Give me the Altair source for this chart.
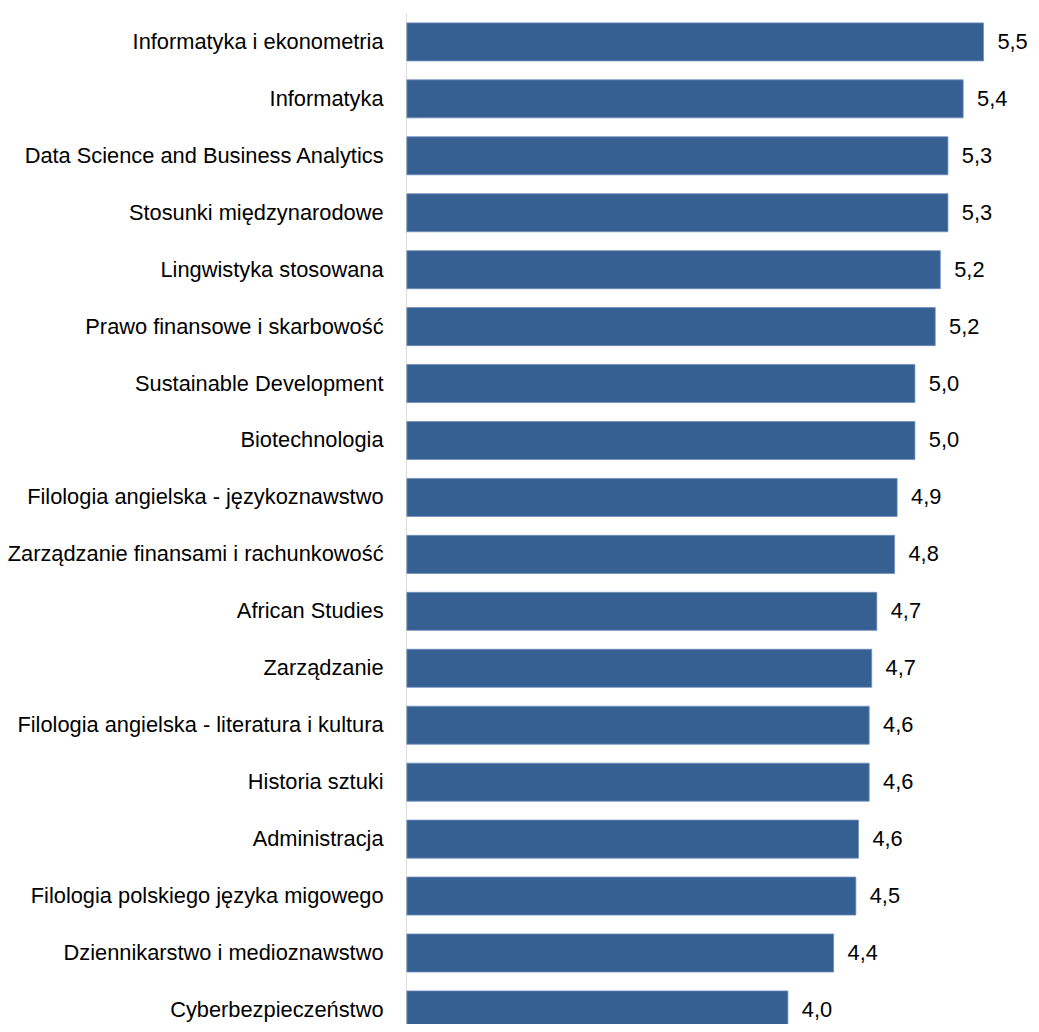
import altair as alt
import pandas as pd

categories = [
    "Informatyka i ekonometria",
    "Informatyka",
    "Data Science and Business Analytics",
    "Stosunki międzynarodowe",
    "Lingwistyka stosowana",
    "Prawo finansowe i skarbowość",
    "Sustainable Development",
    "Biotechnologia",
    "Filologia angielska - językoznawstwo",
    "Zarządzanie finansami i rachunkowość",
    "African Studies",
    "Zarządzanie",
    "Filologia angielska - literatura i kultura",
    "Historia sztuki",
    "Administracja",
    "Filologia polskiego języka migowego",
    "Dziennikarstwo i medioznawstwo",
    "Cyberbezpieczeństwo",
]
values = [5.54, 5.38, 5.26, 5.26, 5.20, 5.16, 5.00, 5.00, 4.86, 4.84,
          4.70, 4.66, 4.64, 4.64, 4.556, 4.535, 4.36, 4.00]
axis_min = 1

df = pd.DataFrame({"kierunek": categories, "wartosc": values})

FONT = "Liberation Sans"

y_enc = alt.Y(
    "kierunek:N",
    sort=categories,
    title=None,
    scale=alt.Scale(range=[0, 1033], paddingInner=0.332, paddingOuter=0.166),
    axis=alt.Axis(
        ticks=False,
        domain=True,
        domainColor="#d9d9d9",
        domainWidth=1,
        offset=1,
        labelPadding=23,
        labelFont=FONT,
        labelFontSize=22,
        labelColor="#000000",
        labelLimit=0,
        grid=False,
    ),
)
x_scale = alt.Scale(domain=[axis_min, axis_min + 629 / 128], zero=False, nice=False)

bars = alt.Chart(df).mark_bar(
    color="#376092", stroke="#6f8fbd", strokeWidth=0.8
).encode(
    y=y_enc,
    x=alt.X("wartosc:Q", scale=x_scale, axis=None),
    x2=alt.datum(axis_min),
)

labels = alt.Chart(df).transform_calculate(
    etykieta="replace(format(datum.wartosc, '.1f'), '.', ',')"
).mark_text(
    align="left", baseline="middle", dx=14, font=FONT, fontSize=22, color="#000000"
).encode(
    y=alt.Y("kierunek:N", sort=categories),
    x=alt.X("wartosc:Q", scale=x_scale),
    text="etykieta:N",
)

chart = alt.layer(bars, labels).properties(
    width=629,
    height=1014,
    background="white",
    autosize=alt.AutoSizeParams(type="none"),
    padding={"left": 402, "top": 1.5, "right": 0, "bottom": 0},
).configure_view(stroke=None, strokeWidth=0)

chart.save("out.html", embed_options={"renderer": "svg", "actions": False})
